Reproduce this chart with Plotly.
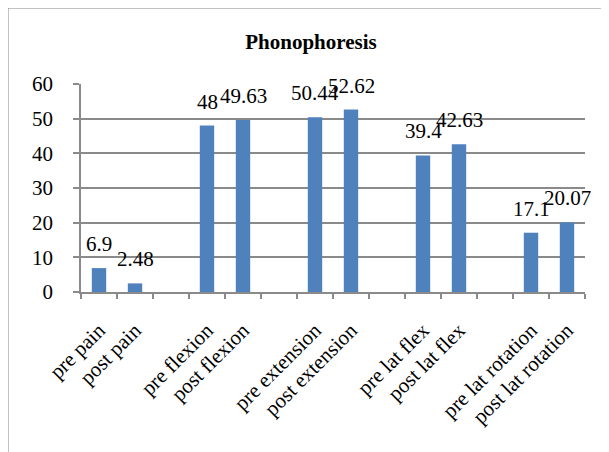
import plotly.graph_objects as go

categories = ["pre pain", "post pain", " ",
              "pre flexion", "post flexion", "  ",
              "pre extension", "post extension", "   ",
              "pre lat flex", "post lat flex", "    ",
              "pre lat rotation", "post lat rotation"]
values = [6.9, 2.48, None,
          48, 49.63, None,
          50.44, 52.62, None,
          39.4, 42.63, None,
          17.1, 20.07]
labels = ["" if v is None else f"{v:g}" for v in values]

# page body has an 8px margin; size the figure so the page does not overflow
OFF = 8
W, H = 609 - OFF, 452 - OFF
L, T = 81 - OFF, 84 - OFF
pw, ph = 504, 208
R, B = W - L - pw, H - T - ph

def px_x(p):
    return (p - OFF - L) / pw

def px_y(p):
    return (T + ph - (p - OFF)) / ph

FONT = "Liberation Serif"
GRID = "#8a8a8a"

fig = go.Figure(go.Bar(
    x=categories, y=values,
    marker=dict(color="#4F81BD", line=dict(width=0)),
    width=0.4,
))

annotations = [
    dict(x=c, y=v, text=t, xref="x", yref="y", showarrow=False,
         xanchor="center", yanchor="bottom", yshift=10,
         font=dict(family=FONT, size=21, color="black"))
    for c, v, t in zip(categories, values, labels) if v is not None
]

fig.update_layout(
    width=W, height=H, autosize=False,
    margin=dict(l=L, r=R, t=T, b=B),
    paper_bgcolor="white", plot_bgcolor="white",
    showlegend=False,
    annotations=annotations,
    title=dict(text="<b>Phonophoresis</b>", x=(311 - OFF) / W, xref="container", xanchor="center",
               y=1 - (42 - OFF) / H, yref="container", yanchor="middle",
               font=dict(family=FONT, size=21, color="black")),
    shapes=[dict(type="rect", xref="paper", yref="paper",
                 x0=px_x(7.5), x1=px_x(640), y0=px_y(480), y1=px_y(7.5),
                 line=dict(color="#888888", width=2), layer="below")],
)

fig.update_xaxes(
    type="category", range=[-0.5, len(categories) - 0.5], autorange=False,
    tickson="boundaries", ticks="outside", ticklen=5,
    tickcolor=GRID, tickwidth=1.5, automargin=False,
    showline=True, linecolor=GRID, linewidth=1.5, showgrid=False,
    tickangle=-45, ticklabelstandoff=16,
    tickfont=dict(family=FONT, size=21, color="black"),
)
fig.update_yaxes(
    range=[0, 60], autorange=False, dtick=10, ticks="outside", ticklen=6,
    tickcolor=GRID, tickwidth=1.5, automargin=False,
    showline=True, linecolor=GRID, linewidth=1.5,
    showgrid=True, gridcolor=GRID, gridwidth=1.5, zeroline=False,
    ticklabelstandoff=16,
    tickfont=dict(family=FONT, size=21, color="black"),
)

fig.write_html("out.html")
